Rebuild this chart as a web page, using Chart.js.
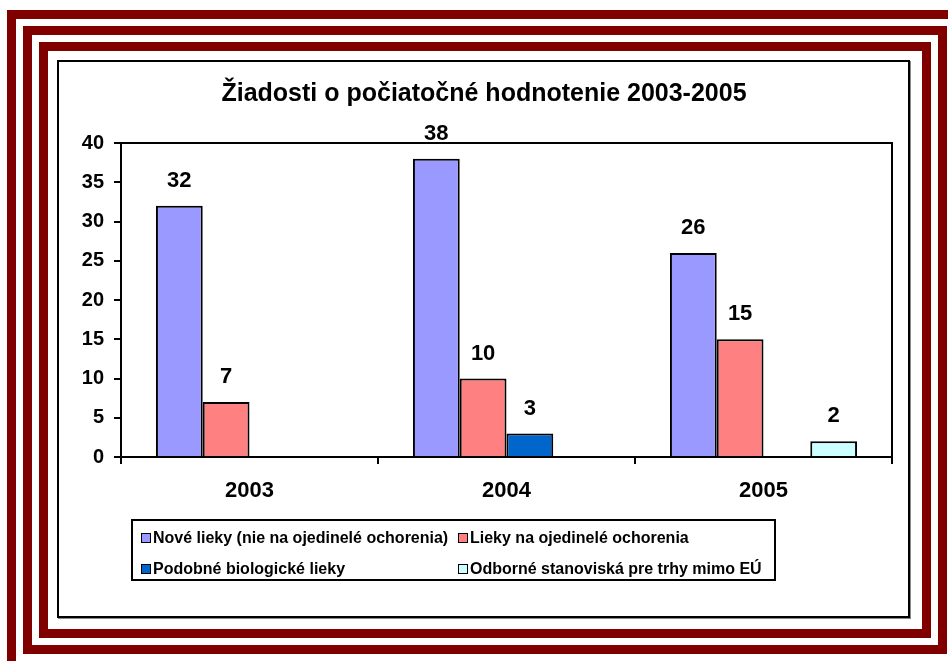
<!DOCTYPE html>
<html>
<head>
<meta charset="utf-8">
<script src="https://cdn.jsdelivr.net/npm/chart.js@4.4.1/dist/chart.umd.min.js"></script>
<style>
  html, body { margin: 0; padding: 0; background: #fff; }
  body { width: 948px; height: 661px; position: relative; overflow: hidden; font-family: "Liberation Sans", Arial, sans-serif; }
  .band { position: absolute; border: 9px solid #800000; box-sizing: border-box; }
  #box { position: absolute; left: 57px; top: 60px; width: 853px; height: 558px; box-sizing: border-box;
         border: 2px solid #000; box-shadow: 1px 1px 0 #888; background: #fff; }
  #wrap { position: absolute; left: 59px; top: 62px; width: 849px; height: 554px; }
  #legend { position: absolute; left: 131px; top: 519px; width: 645px; height: 62px; box-sizing: border-box;
            border: 2px solid #000; font-weight: bold; font-size: 16px; color: #000; }
  #legend .item { position: absolute; display: flex; align-items: center; white-space: nowrap; height: 20px; }
  #legend .sw { width: 8px; height: 8px; border: 1.5px solid #000; margin-right: 2px; }
</style>
</head>
<body>
<div class="band" style="left:7px;top:10px;width:960px;height:670px"></div>
<div class="band" style="left:23px;top:26px;width:924px;height:628px"></div>
<div class="band" style="left:39px;top:42px;width:892px;height:596px"></div>
<div id="box"></div>
<div id="wrap"><canvas id="chart"></canvas></div>
<div id="legend"></div>
<script>
const years = ['2003', '2004', '2005'];
const seriesNames = [
  'Nové lieky (nie na ojedinelé ochorenia)',
  'Lieky na ojedinelé ochorenia',
  'Podobné biologické lieky',
  'Odborné stanoviská pre trhy mimo EÚ'
];
const noveLieky = [32, 38, 26];
const ojedineleLieky = [7, 10, 15];
const biologickeLieky = [null, 3, null];
const mimoEU = [null, null, 2];
const seriesColors = ['#9999FF', '#FF8080', '#0066CC', '#CCFFFF'];
const yTicks = [0, 5, 10, 15, 20, 25, 30, 35, 40];

const font = '"Liberation Sans", Arial, sans-serif';

// value labels above the bars + top/right frame of the plot area
const extras = {
  id: 'extras',
  afterDatasetsDraw(chart) {
    const ctx = chart.ctx;
    const a = chart.chartArea;
    ctx.save();
    ctx.strokeStyle = '#000';
    ctx.lineWidth = 2;
    ctx.beginPath();
    ctx.moveTo(a.left, a.top);
    ctx.lineTo(a.right, a.top);
    ctx.lineTo(a.right, a.bottom);
    ctx.stroke();
    ctx.fillStyle = '#000';
    ctx.font = 'bold 22px ' + font;
    ctx.textAlign = 'center';
    ctx.textBaseline = 'middle';
    chart.data.datasets.forEach((ds, i) => {
      chart.getDatasetMeta(i).data.forEach((bar, j) => {
        const v = ds.data[j];
        if (v == null) return;
        ctx.fillText(String(v), bar.x, bar.y - 25);
      });
    });
    ctx.restore();
  }
};

const chart = new Chart(document.getElementById('chart'), {
  type: 'bar',
  data: {
    labels: years,
    datasets: [noveLieky, ojedineleLieky, biologickeLieky, mimoEU].map((d, i) => ({
      label: seriesNames[i],
      data: d,
      backgroundColor: seriesColors[i],
      borderColor: '#000',
      borderWidth: 2,
      barPercentage: 1,
      categoryPercentage: 0.728
    }))
  },
  options: {
    responsive: true, maintainAspectRatio: false,
    animation: false,
    layout: { padding: { left: 17, right: 16, top: 0, bottom: 99 } },
    plugins: {
      legend: { display: false },
      tooltip: { enabled: false },
      title: {
        display: true,
        text: 'Žiadosti o počiatočné hodnotenie 2003-2005',
        color: '#000',
        font: { family: font, size: 25, weight: 'bold' },
        padding: { top: 17, bottom: 34 }
      }
    },
    scales: {
      x: {
        grid: { offset: true, drawOnChartArea: false, drawTicks: true, tickLength: 7, tickColor: '#000', lineWidth: 2 },
        border: { display: true, color: '#000', width: 2 },
        ticks: { color: '#000', padding: 14, font: { family: font, size: 22, weight: 'bold' } },
        afterFit(s) { s.height = 60; }
      },
      y: {
        min: 0, max: 40,
        grid: { drawOnChartArea: false, drawTicks: true, tickLength: 7, tickColor: '#000', lineWidth: 2 },
        border: { display: true, color: '#000', width: 2 },
        ticks: {
          stepSize: 5, color: '#000', padding: 10,
          font: { family: font, size: 20, weight: 'bold' }
        },
        afterBuildTicks(s) { s.ticks = yTicks.map(v => ({ value: v })); },
        afterFit(s) { s.width = 45; }
      }
    }
  },
  plugins: [extras]
});

// two-column legend box under the chart
const legendPos = [[8, 7], [325, 7], [8, 38], [325, 38]];
const legendEl = document.getElementById('legend');
chart.data.datasets.forEach((ds, i) => {
  const item = document.createElement('div');
  item.className = 'item';
  item.style.left = legendPos[i][0] + 'px';
  item.style.top = legendPos[i][1] + 'px';
  const sw = document.createElement('span');
  sw.className = 'sw';
  sw.style.background = ds.backgroundColor;
  item.appendChild(sw);
  item.appendChild(document.createTextNode(ds.label));
  legendEl.appendChild(item);
});
</script>
</body>
</html>
